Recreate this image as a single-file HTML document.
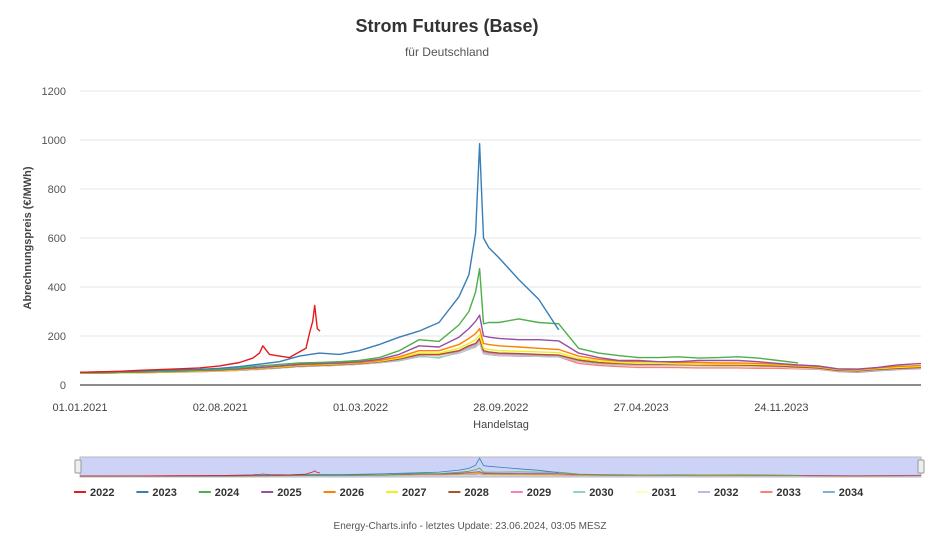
<!DOCTYPE html>
<html><head><meta charset="utf-8">
<style>
body{margin:0;background:#fff;font-family:"Liberation Sans",sans-serif;}
svg text{font-family:"Liberation Sans",sans-serif;}
</style></head>
<body>
<svg id="chart" width="945" height="543" viewBox="0 0 945 543" xmlns="http://www.w3.org/2000/svg">
<rect width="945" height="543" fill="#fff"/>
<text x="447" y="32" text-anchor="middle" font-size="18" font-weight="bold" fill="#333">Strom Futures (Base)</text>
<text x="447" y="56" text-anchor="middle" font-size="12" fill="#555">für Deutschland</text>
<text transform="translate(31,238) rotate(-90)" text-anchor="middle" font-size="11" font-weight="bold" fill="#444">Abrechnungspreis (€/MWh)</text>
<text x="501" y="428" text-anchor="middle" font-size="11" fill="#444">Handelstag</text>
<g id="grid"></g>
<g id="series"></g>
<rect x="80" y="457" width="841" height="20" fill="#cdd3f7" stroke="#bbb"/>
<g id="nav"></g>
<rect x="75" y="460" width="6" height="13" rx="1" fill="#eee" stroke="#999"/>
<rect x="918" y="460" width="6" height="13" rx="1" fill="#eee" stroke="#999"/>
<g id="legend"></g>
<text x="470" y="529" text-anchor="middle" font-size="10" fill="#555">Energy-Charts.info - letztes Update: 23.06.2024, 03:05 MESZ</text>
</svg>
<script>
const yTicks=[0,200,400,600,800,1000,1200];
const xTickDays=[0,211,422,633,844,1055];
const xTickLabels=["01.01.2021","02.08.2021","01.03.2022","28.09.2022","27.04.2023","24.11.2023"];
const names=["2022","2023","2024","2025","2026","2027","2028","2029","2030","2031","2032","2033","2034"];
const colors=["#e41a1c","#377eb8","#4daf4a","#984ea3","#ff7f00","#eeee22","#a65628","#f781bf","#8dd3c7","#ffffb3","#bebada","#fb8072","#80b1d3"];
const days=[0,30,60,90,120,150,180,210,240,270,300,330,360,390,420,450,480,510,540,570,585,595,601,607,615,630,660,690,720,750,780,810,840,870,900,930,960,990,1020,1050,1080,1110,1140,1170,1200,1230,1265];
const days2022=[0,30,60,90,120,150,180,210,240,260,270,275,285,300,315,330,340,345,350,353,357,361];
const v2022=[52,54,56,60,63,66,70,78,92,110,130,160,125,118,112,135,150,210,260,325,230,220];
const v2023=[52,53,55,57,60,62,64,68,75,85,95,118,130,125,140,165,195,220,255,360,450,620,985,600,560,520,430,350,225,null,null,null,null,null,null,null,null,null,null,null,null,null,null,null,null,null,null];
const v2024=[50,51,52,54,56,58,61,64,70,78,84,90,92,95,100,112,140,185,178,245,300,380,475,250,255,255,270,255,250,150,130,120,112,112,115,110,112,115,110,100,90,null,null,null,null,null,null];
const v2025=[50,51,52,53,55,57,60,62,66,72,78,85,88,90,95,105,125,160,155,195,230,260,285,200,195,190,185,185,180,130,112,100,100,95,95,100,100,100,95,88,82,78,66,65,72,82,88];
const v2026=[50,50,51,52,54,56,58,60,64,70,76,82,85,88,92,100,115,140,140,165,190,210,230,170,165,160,155,150,145,118,105,98,95,95,92,92,90,90,88,85,80,76,65,63,70,76,80];
const v2027=[48,49,50,51,52,54,56,58,62,68,73,80,83,86,90,97,110,130,130,150,170,185,205,150,145,140,138,135,132,108,98,92,88,88,86,85,85,85,84,82,78,74,63,61,67,72,76];
const v2028=[48,49,50,51,52,54,56,58,62,67,72,78,81,84,88,95,106,125,125,140,160,170,190,140,135,130,128,125,122,102,92,88,85,85,84,83,82,82,80,78,74,70,60,58,64,68,72];
const v2029=[48,49,50,51,52,53,55,57,61,66,71,77,80,83,87,94,104,122,122,137,155,165,185,135,130,127,125,122,120,100,90,86,83,83,82,81,80,80,78,76,72,69,59,57,63,67,71];
const v2030=[48,49,50,51,52,53,55,57,60,65,70,76,79,82,86,92,100,118,110,135,150,160,180,132,128,125,122,120,118,98,88,84,82,82,81,80,79,79,77,75,71,68,58,56,62,66,70];
const v2031=[48,49,50,51,52,53,55,57,60,65,70,76,79,82,86,92,101,119,119,134,150,160,178,132,128,124,122,120,118,98,88,84,82,82,80,79,78,78,76,74,70,67,58,56,62,66,70];
const v2032=[48,49,50,51,52,53,55,57,60,64,69,75,78,81,85,91,99,116,116,130,146,155,172,128,124,120,118,117,115,96,86,82,80,80,79,78,77,77,75,73,69,66,57,55,61,65,69];
const v2033=[48,49,50,51,52,53,55,57,60,64,69,75,78,81,85,91,99,116,116,130,146,155,172,128,124,120,118,117,115,88,80,75,72,72,71,70,70,70,68,68,66,64,56,54,60,64,68];
const v2034=[48,49,50,51,52,53,55,57,60,64,69,75,78,81,85,91,99,116,116,130,146,155,172,128,124,120,118,117,115,96,86,82,80,80,79,78,77,77,75,73,69,65,55,52,58,63,67];

const NS="http://www.w3.org/2000/svg";
const X0=80,X1=921,DMAX=1265,Y0=385,YMAX=1200,YTOP=91;
function xs(d){return X0+d*(X1-X0)/DMAX;}
function ys(v){return Y0-v*(Y0-YTOP)/YMAX;}
function nys(v){return 477-v*20/1050;}
function mk(tag,attrs,parent){const e=document.createElementNS(NS,tag);for(const k in attrs)e.setAttribute(k,attrs[k]);parent.appendChild(e);return e;}
const grid=document.getElementById('grid');
yTicks.forEach(t=>{
  if(t>0){const l=mk('line',{x1:X0,x2:X1,y1:ys(t),y2:ys(t),stroke:'#e6e6e6'},grid);
  
  }
  const tx=mk('text',{x:66,y:ys(t)+4,'text-anchor':'end','font-size':'11',fill:'#555'},grid);
  tx.textContent=t;
  
  
});
const ax=mk('line',{x1:X0,x2:X1,y1:Y0,y2:Y0,stroke:'#666','stroke-width':1.5},grid);


xTickDays.forEach((d,i)=>{
  const tx=mk('text',{x:xs(d),y:411,'text-anchor':'middle','font-size':'11',fill:'#444'},grid);
  tx.textContent=xTickLabels[i];
  
  
});
const seriesVals=[v2022,v2023,v2024,v2025,v2026,v2027,v2028,v2029,v2030,v2031,v2032,v2033,v2034];
function pathFor(dd,vv,yf){let s='',pen=false;for(let i=0;i<dd.length;i++){const v=vv[i];if(v==null){pen=false;continue;}s+=(pen?'L':'M')+xs(dd[i]).toFixed(1)+','+yf(v).toFixed(1);pen=true;}return s;}
const sg=document.getElementById('series'),ng=document.getElementById('nav');
for(let i=names.length-1;i>=0;i--){
  const dd=i===0?days2022:days;
  const p=mk('path',{d:pathFor(dd,seriesVals[i],ys),fill:'none',stroke:colors[i],'stroke-width':1.4,'stroke-linejoin':'round'},sg);
  
  
  const q=mk('path',{d:pathFor(dd,seriesVals[i],nys),fill:'none',stroke:colors[i],'stroke-width':0.8},ng);
  
  
}
const lg=document.getElementById('legend');
names.forEach((n,i)=>{
  const x=74+i*62.4;
  const g=mk('g',{},lg);
  
  
  mk('line',{x1:x,x2:x+12,y1:492,y2:492,stroke:colors[i],'stroke-width':2},g);
  const t=mk('text',{x:x+16,y:496,'font-size':'11','font-weight':'bold',fill:'#333'},g);
  t.textContent=n;
});
</script>
</body></html>
